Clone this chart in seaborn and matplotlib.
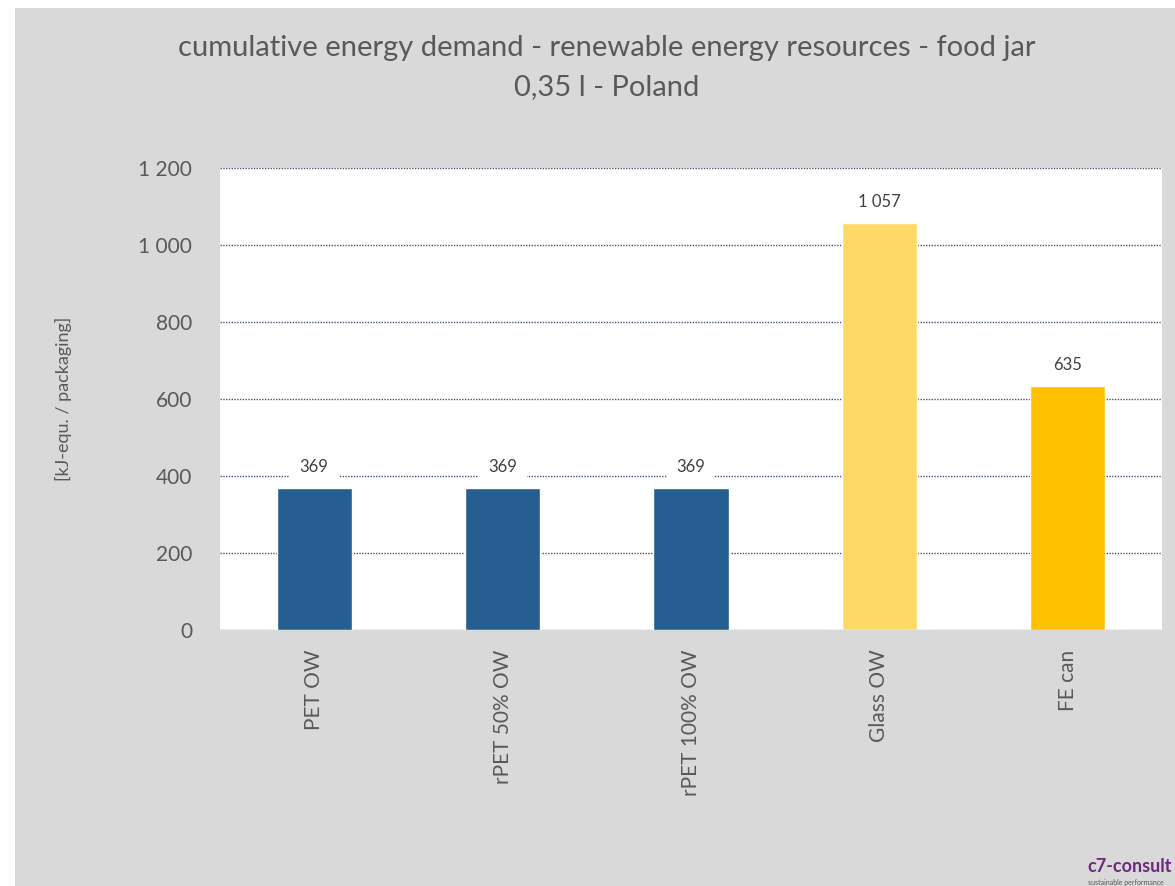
import matplotlib
matplotlib.use("Agg")
import matplotlib.pyplot as plt
import seaborn as sns
import pandas as pd
from matplotlib.patches import Rectangle

sns.set_theme(style="white")
plt.rcParams['font.family'] = ['Lato', 'DejaVu Sans']

# data
packagings = ['PET OW', 'rPET 50% OW', 'rPET 100% OW', 'Glass OW', 'FE can']
energy = [369, 369, 369, 1057, 635]
bar_colors = ['#255e91', '#255e91', '#255e91', '#ffd966', '#ffc000']
y_ticks = [0, 200, 400, 600, 800, 1000, 1200]
y_tick_labels = ['0', '200', '400', '600', '800', '1 000', '1 200']
value_labels = ['369', '369', '369', '1 057', '635']

df = pd.DataFrame({'packaging': packagings, 'energy': energy})

text_col = '#595959'
fig = plt.figure(figsize=(11.75, 8.86), dpi=100, facecolor='white')
# grey chart area (white strip on top and left like the screenshot)
fig.patches.append(Rectangle((15 / 1175, 0), 1, (886 - 8) / 886,
                             transform=fig.transFigure, facecolor='#d9d9d9',
                             edgecolor='none', zorder=-10))

ax = fig.add_axes([220 / 1175, 1 - 630 / 886, 942 / 1175, 462 / 886])
ax.set_facecolor('white')

sns.barplot(data=df, x='packaging', y='energy', hue='packaging',
            palette=bar_colors, saturation=1, width=0.4, legend=False, ax=ax, zorder=3)

ax.set_ylim(0, 1200)
ax.set_xlim(-0.5, len(packagings) - 0.5)
ax.set_yticks(y_ticks)
ax.set_yticklabels(y_tick_labels, fontsize=15, color=text_col)
ax.yaxis.grid(True, linestyle=(0, (1, 1)), color='#44546a', linewidth=1, zorder=0)
ax.set_axisbelow(True)
for s in ax.spines.values():
    s.set_visible(False)
ax.tick_params(axis='both', length=0)
ax.tick_params(axis='y', pad=20)
ax.tick_params(axis='x', pad=14)
ax.set_xticks(range(len(packagings)))
ax.set_xticklabels(packagings, rotation=90, fontsize=15, color=text_col, va='top')
ax.set_xlabel('')
ax.set_ylabel('[kJ-equ. / packaging]', fontsize=13, color=text_col, labelpad=48)

for i, (v, lab) in enumerate(zip(energy, value_labels)):
    ax.annotate(lab, (i, v), xytext=(0, 21), textcoords='offset pixels',
                ha='center', va='center', fontsize=12, color='#404040', zorder=5,
                bbox=dict(boxstyle='square,pad=0.6', facecolor='white', edgecolor='none'))

fig.text(607 / 1175, 1 - 48 / 886, 'cumulative energy demand - renewable energy resources - food jar',
         ha='center', va='center', fontsize=21, color=text_col)
fig.text(607 / 1175, 1 - 87 / 886, '0,35 l - Poland',
         ha='center', va='center', fontsize=21, color=text_col)

fig.text(1087 / 1175, 1 - 867 / 886, 'c7-consult', ha='left', va='center',
         fontsize=13, fontweight='bold', color='#6b2a7d')
fig.text(1088 / 1175, 1 - 882 / 886, 'sustainable performance', ha='left', va='center',
         fontsize=5, color='#595959')

fig.savefig('out.png', dpi=100, facecolor=fig.get_facecolor())
